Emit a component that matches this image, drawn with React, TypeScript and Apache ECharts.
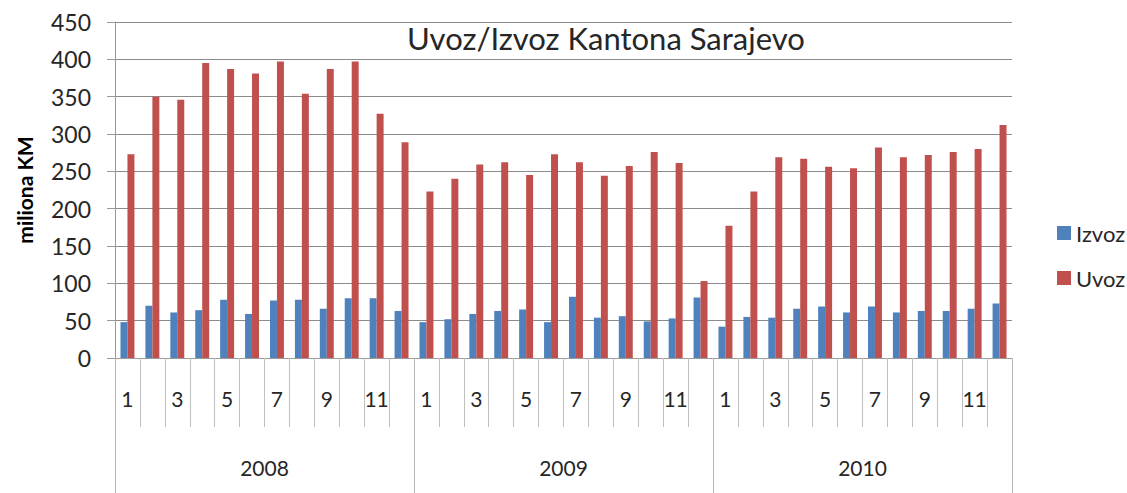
import React, { useEffect, useRef } from "react";
import * as echarts from "echarts";

const years = ["2008", "2009", "2010"];
const months = ["1", "2", "3", "4", "5", "6", "7", "8", "9", "10", "11", "12"];
const izvoz = [
  48, 70, 61, 64, 78, 59, 77, 78, 66, 80, 80, 63,
  48, 52, 59, 63, 65, 48, 82, 54, 56, 49, 53, 81,
  42, 55, 54, 66, 69, 61, 69, 61, 63, 63, 66, 73,
];
const uvoz = [
  273, 350, 346, 395, 387, 381, 397, 354, 387, 397, 327, 289,
  223, 240, 259, 262, 245, 273, 262, 244, 257, 276, 261, 103,
  177, 223, 269, 267, 256, 254, 282, 269, 272, 276, 280, 312,
];
const yTicks = { min: 0, max: 450, interval: 50 };

const FONT = "Lato";
const TEXT = "#262626";

export default function App() {
  const ref = useRef<HTMLDivElement>(null);
  useEffect(() => {
    document.body.style.margin = "0";
    const chart = echarts.init(ref.current!, null, { renderer: "svg" });
    const cats: string[] = [];
    years.forEach((y) => months.forEach((m) => cats.push(y + "-" + m)));
    chart.setOption({
      animation: false,
      textStyle: { fontFamily: FONT },
      title: {
        text: "Uvoz/Izvoz Kantona Sarajevo",
        left: 407,
        top: 22,
        padding: 0,
        textStyle: { fontFamily: FONT, fontSize: 31, fontWeight: "normal", color: TEXT },
      },
      legend: {
        orient: "vertical",
        left: 1052,
        top: 217,
        itemWidth: 14,
        itemHeight: 14,
        itemGap: 23,
        icon: "rect",
        textStyle: { fontFamily: FONT, fontSize: 22, lineHeight: 22, color: TEXT },
        data: ["Izvoz", "Uvoz"],
      },
      grid: { left: 115, right: 115, top: 22, bottom: 135, containLabel: false },
      xAxis: [
        {
          type: "category",
          data: cats,
          position: "bottom",
          axisLine: { show: true, lineStyle: { color: "#9a9a9a" } },
          axisTick: { show: true, interval: 0, length: 69, lineStyle: { color: "#c0c0c0" } },
          axisLabel: {
            interval: 1,
            margin: 30,
            fontFamily: FONT,
            fontSize: 21,
            color: TEXT,
            formatter: (v: string) => v.split("-")[1],
          },
          splitLine: { show: false },
        },
        {
          type: "category",
          data: years,
          position: "bottom",
          axisLine: { show: false },
          axisTick: { show: true, interval: 0, length: 135, lineStyle: { color: "#b5b5b5" } },
          axisLabel: { interval: 0, margin: 99, fontFamily: FONT, fontSize: 21, color: TEXT },
          splitLine: { show: false },
        },
      ],
      yAxis: {
        type: "value",
        min: yTicks.min,
        max: yTicks.max,
        interval: yTicks.interval,
        axisLine: { show: true, lineStyle: { color: "#9a9a9a" } },
        axisTick: { show: true, length: 8, lineStyle: { color: "#9a9a9a" } },
        axisLabel: { margin: 24, fontFamily: FONT, fontSize: 23, color: TEXT },
        splitLine: { show: true, lineStyle: { color: "#8c8c8c", width: 1 } },
      },
      graphic: [
        {
          type: "text",
          x: 24,
          y: 190,
          rotation: Math.PI / 2,
          style: {
            text: "miliona KM",
            fontFamily: FONT,
            fontSize: 21,
            fontWeight: "bold",
            fill: "#000",
            align: "center",
            verticalAlign: "middle",
          },
        },
      ],
      series: [
        {
          name: "Izvoz",
          type: "bar",
          data: izvoz,
          barGap: "0%",
          barCategoryGap: "44%",
          itemStyle: { color: "#4F81BD" },
        },
        {
          name: "Uvoz",
          type: "bar",
          data: uvoz,
          barGap: "0%",
          barCategoryGap: "44%",
          itemStyle: { color: "#C0504D" },
        },
      ],
    });
    return () => chart.dispose();
  }, []);
  return <div ref={ref} style={{ width: 1127, height: 493 }} />;
}
